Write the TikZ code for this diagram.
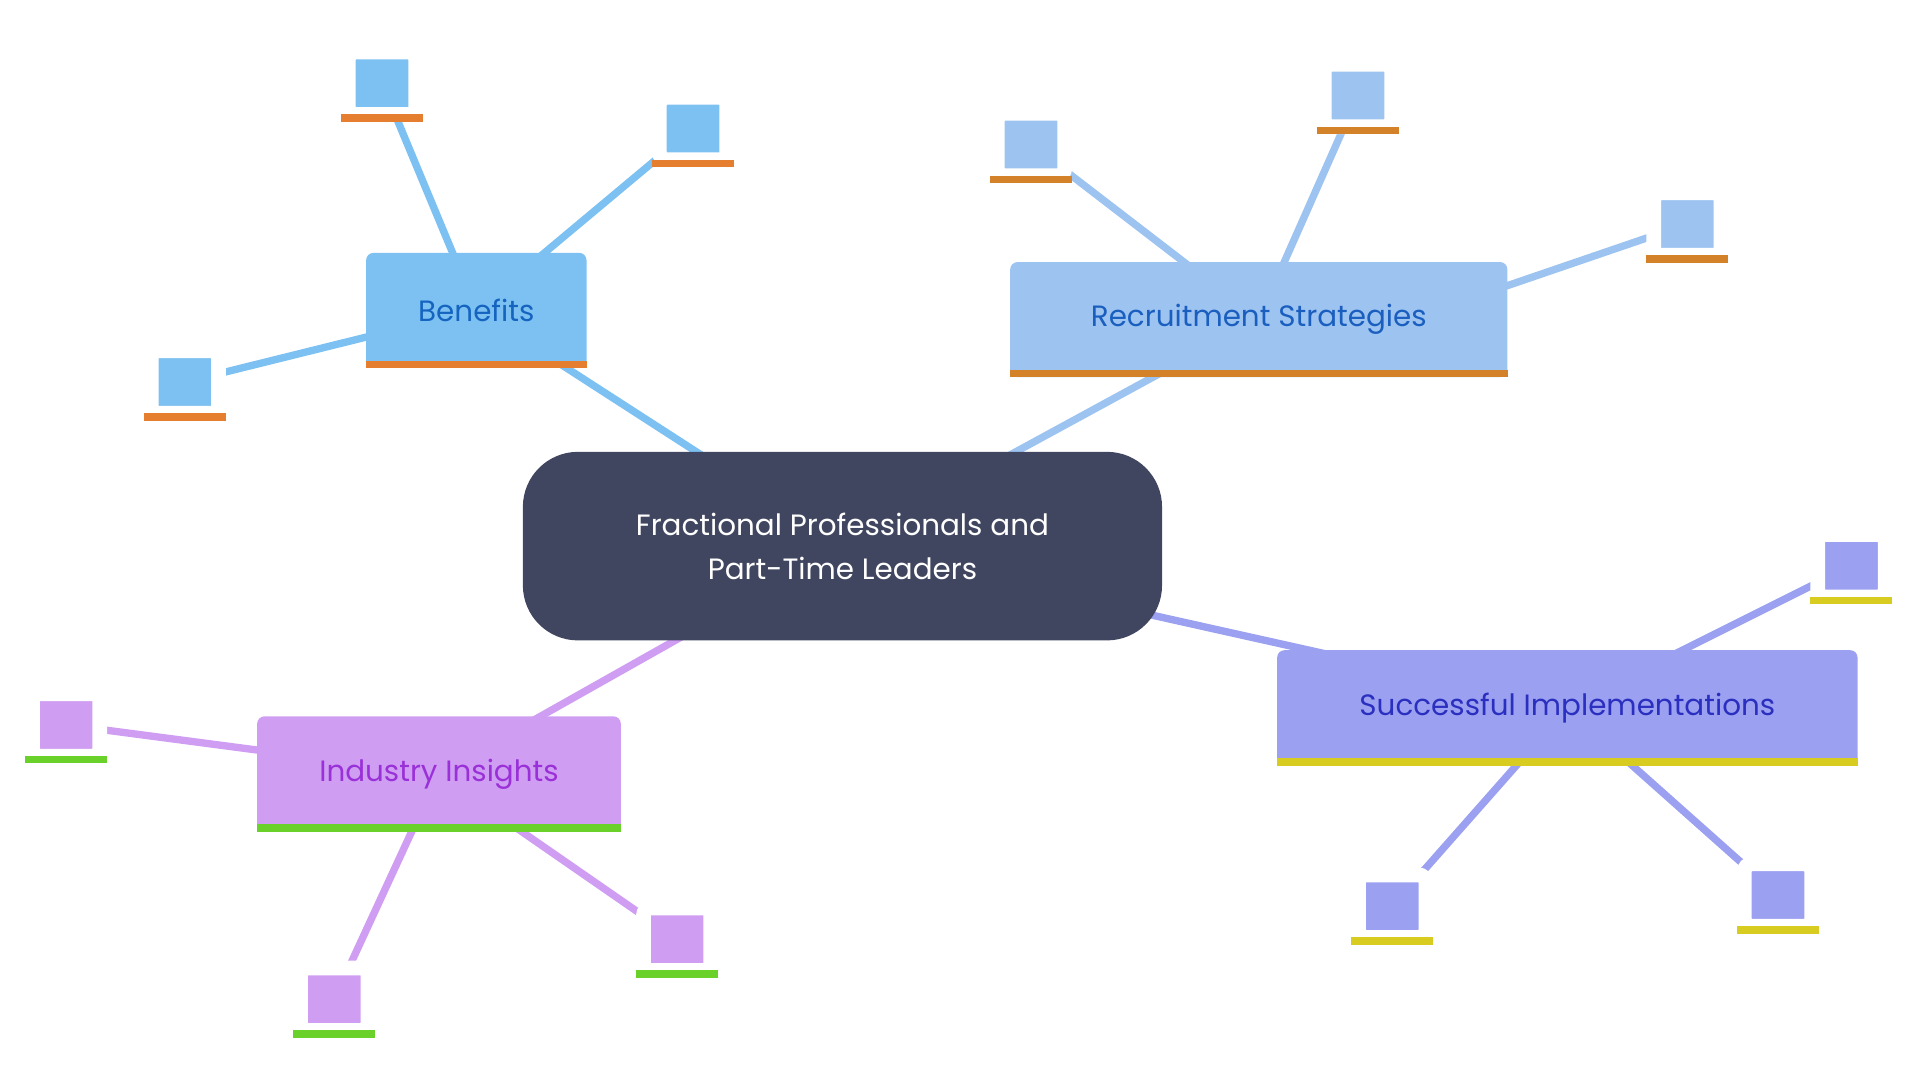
\documentclass[tikz,border=0pt]{standalone}
\usepackage{fontspec}
\setmainfont{Poppins}
\definecolor{cen}{HTML}{414660}
\definecolor{bfill}{HTML}{7DC1F2}\definecolor{btext}{HTML}{1565C0}\definecolor{bstr}{HTML}{E67E30}
\definecolor{rfill}{HTML}{9DC3F0}\definecolor{rtext}{HTML}{1A5FBF}\definecolor{rstr}{HTML}{D4822A}
\definecolor{sfill}{HTML}{9BA0F0}\definecolor{stext}{HTML}{2A2FBF}\definecolor{sstr}{HTML}{D8CC20}
\definecolor{ifill}{HTML}{CF9EF2}\definecolor{itext}{HTML}{9A30D8}\definecolor{istr}{HTML}{6AD12A}
\tikzset{
 edge/.style={line width=6pt},
 leaf/.style={rectangle, rounded corners=6pt, minimum width=55pt, minimum height=51pt, draw=white, line width=12pt, inner sep=0pt},
 box/.style={rectangle, rounded corners=6pt, inner sep=0pt, font=\fontsize{24}{30}\selectfont},
}
\newcommand{\strp}[2]{\fill[#2] (#1.south west) rectangle ([yshift=6pt]#1.south east);}
\begin{document}
\begin{tikzpicture}[x=1pt,y=-1pt]
\useasboundingbox (0,0) rectangle (1568,882);
% edges central
\draw[edge,bfill] (389,253) -- (688,446);
\draw[edge,rfill] (1028,261) -- (688,446);
\draw[edge,sfill] (1280,578) -- (688,446);
\draw[edge,ifill] (358,632) -- (688,446);
% leaf edges
\draw[edge,bfill] (389,253) -- (312,68);
\draw[edge,bfill] (389,253) -- (566,105);
\draw[edge,bfill] (389,253) -- (151,312);
\draw[edge,rfill] (1028,261) -- (842,118);
\draw[edge,rfill] (1028,261) -- (1109,78);
\draw[edge,rfill] (1150,261) -- (1378,183);
\draw[edge,sfill] (1280,578) -- (1512,462);
\draw[edge,sfill] (1280,578) -- (1137,740);
\draw[edge,sfill] (1280,578) -- (1452,731);
\draw[edge,ifill] (358,632) -- (54,592);
\draw[edge,ifill] (358,632) -- (273,816);
\draw[edge,ifill] (358,632) -- (553,767);
% leaves
\node[leaf,fill=bfill] (b1) at (312,68) {};\strp{b1}{bstr}
\node[leaf,fill=bfill] (b2) at (566,105) {};\strp{b2}{bstr}
\node[leaf,fill=bfill] (b3) at (151,312) {};\strp{b3}{bstr}
\node[leaf,fill=rfill] (r1) at (842,118) {};\strp{r1}{rstr}
\node[leaf,fill=rfill] (r2) at (1109,78) {};\strp{r2}{rstr}
\node[leaf,fill=rfill] (r3) at (1378,183) {};\strp{r3}{rstr}
\node[leaf,fill=sfill] (s1) at (1512,462) {};\strp{s1}{sstr}
\node[leaf,fill=sfill] (s2) at (1137,740) {};\strp{s2}{sstr}
\node[leaf,fill=sfill] (s3) at (1452,731) {};\strp{s3}{sstr}
\node[leaf,fill=ifill] (i1) at (54,592) {};\strp{i1}{istr}
\node[leaf,fill=ifill] (i2) at (273,816) {};\strp{i2}{istr}
\node[leaf,fill=ifill] (i3) at (553,767) {};\strp{i3}{istr}
% boxes
\node[box,fill=bfill,text=btext,minimum width=180pt,minimum height=94pt] (b) at (389,253.5) {Benefits};\strp{b}{bstr}
\node[box,fill=rfill,text=rtext,minimum width=406pt,minimum height=94pt] (r) at (1028,261) {Recruitment Strategies};\strp{r}{rstr}
\node[box,fill=sfill,text=stext,minimum width=474pt,minimum height=94pt] (s) at (1280,578) {Successful Implementations};\strp{s}{sstr}
\node[box,fill=ifill,text=itext,minimum width=297pt,minimum height=94pt] (i) at (358.5,632) {Industry Insights};\strp{i}{istr}
\node[rectangle,rounded corners=45pt,fill=cen,text=white,minimum width=522pt,minimum height=154pt,align=center,font=\fontsize{24}{36}\selectfont] (c) at (688,446) {Fractional Professionals and\\Part-Time Leaders};
\end{tikzpicture}
\end{document}
